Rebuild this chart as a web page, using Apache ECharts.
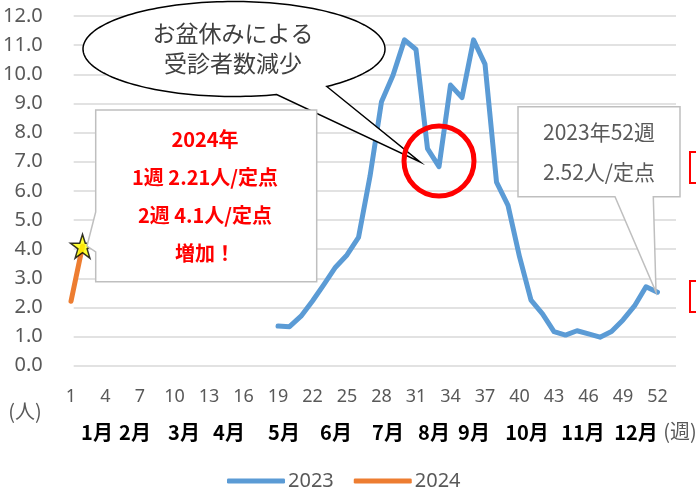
<!DOCTYPE html>
<html><head><meta charset="utf-8">
<script src="https://cdn.jsdelivr.net/npm/echarts@6/dist/echarts.min.js"></script>
<style>html,body{margin:0;padding:0;background:#fff}#c{width:696px;height:488px}</style>
</head><body><div id="c"></div>
<script>
// ---- data ----
const WEEKS = ['1','2','3','4','5','6','7','8','9','10','11','12','13','14','15','16','17','18','19','20',
  '21','22','23','24','25','26','27','28','29','30','31','32','33','34','35','36','37','38','39','40',
  '41','42','43','44','45','46','47','48','49','50','51','52'];
const S2023 = [null,null,null,null,null,null,null,null,null,null,null,null,null,null,null,null,null,null,
  1.36,1.34,1.70,2.22,2.79,3.38,3.80,4.40,6.50,9.06,9.97,11.18,10.85,7.45,6.83,9.63,9.20,11.18,10.35,6.30,5.50,
  3.74,2.25,1.78,1.17,1.05,1.20,1.09,0.98,1.17,1.57,2.05,2.71,2.52];
const S2024 = [2.21, 4.10];
const MONTHS = ['1月','2月','3月','4月','5月','6月','7月','8月','9月','10月','11月','12月'];
const Y_MIN = 0, Y_MAX = 12, Y_STEP = 1;
const LEGEND = ['2023','2024'];
const NOTE_BUBBLE = ['お盆休みによる','受診者数減少'];
const NOTE_2024 = ['2024年','1週 2.21人/定点','2週 4.1人/定点','増加！'];
const NOTE_2023 = ['2023年52週','2.52人/定点'];

// ---- chart ----
const F = '"Noto Sans","Noto Sans CJK JP",sans-serif';
const FJ = '"Noto Sans CJK JP","Noto Sans",sans-serif';
const GRAY = '#595959', GRID = '#d9d9d9';
const BLUE = '#5b9bd5', ORANGE = '#ed7d31';
const chart = echarts.init(document.getElementById('c'), null, {renderer:'canvas'});

function bubblePts(){
  const cx=234, cy=49, rx=151, ry=47.5;
  const a0=73.6, a1=52.1+360, pts=[];
  for(let a=a0; a<a1; a+=2){ const r=a*Math.PI/180; pts.push([cx+rx*Math.cos(r), cy+ry*Math.sin(r)]); }
  const r1=a1*Math.PI/180; pts.push([cx+rx*Math.cos(r1), cy+ry*Math.sin(r1)]);
  pts.push([420,162]);
  return pts;
}
const monthX = [97,135,184,229,284,336,388,434,474,527,583,636];
const graphics = [];
const T = (x,y,text,fill,font)=>({type:'text', z:101, x, y,
  style:{text, fill, font, textAlign:'center', textVerticalAlign:'middle', verticalAlign:'middle'}});
// speech bubble
graphics.push({type:'polygon', z:100, shape:{points:bubblePts()}, style:{fill:'#fff', stroke:'#000', lineWidth:1.5}});
NOTE_BUBBLE.forEach((t,i)=>graphics.push(T(233, 33+i*30, t, '#404040', '23px '+FJ)));
// red circle
graphics.push({type:'circle', z:100, shape:{cx:439, cy:161, r:35}, style:{fill:'none', stroke:'#ff0000', lineWidth:5}});
// left callout
graphics.push({type:'polygon', z:100, shape:{points:[[95.7,110],[316.7,110],[316.7,281.7],[95.7,281.7],[95.7,252],[87,246],[95.7,212]]},
  style:{fill:'#fff', stroke:'#bfbfbf', lineWidth:1.5}});
const y24 = [139,177,215,253];
NOTE_2024.forEach((t,i)=>graphics.push(T(205, y24[i], t, '#ff0000', 'bold 20px '+FJ)));
// right callout
graphics.push({type:'polygon', z:100, shape:{points:[[518,106.7],[680,106.7],[680,196.7],[653.3,196.7],[656,292],[615,196.7],[518,196.7]]},
  style:{fill:'#fff', stroke:'#bfbfbf', lineWidth:1.5}});
const y23 = [132,172];
NOTE_2023.forEach((t,i)=>graphics.push(T(599, y23[i], t, GRAY, '21px '+FJ)));
// month labels
MONTHS.forEach((m,i)=>graphics.push(T(monthX[i], 432, m, '#000', 'bold 20px '+FJ)));
// unit labels
graphics.push(T(25, 411, '(人)', GRAY, '20px '+FJ));
graphics.push(T(680, 431, '(週)', GRAY, '20px '+FJ));
// fragments at right edge
graphics.push({type:'rect', z:100, shape:{x:690, y:152, width:10, height:31}, style:{fill:'none', stroke:'#ff0000', lineWidth:2}});
graphics.push({type:'rect', z:100, shape:{x:690, y:281, width:10, height:31}, style:{fill:'none', stroke:'#ff0000', lineWidth:2}});

const starPath = 'path://M50,2 L61,36 L97,36 L68,57 L79,92 L50,71 L21,92 L32,57 L3,36 L39,36 Z';

chart.setOption({
  animation:false,
  backgroundColor:'#fff',
  textStyle:{fontFamily:F},
  grid:[
    {left:67, right:20, top:16, bottom:122.3},
    {left:65.25, right:32.75, top:16, bottom:122.3}
  ],
  xAxis:[
    {gridIndex:0, type:'value', min:0, max:1, show:false},
    {gridIndex:1, type:'category', data:WEEKS, boundaryGap:true,
     axisLine:{show:false}, axisTick:{show:false},
     axisLabel:{interval:2, margin:22, fontSize:18, color:GRAY, fontFamily:F}}
  ],
  yAxis:[
    {gridIndex:0, type:'value', min:Y_MIN, max:Y_MAX, interval:Y_STEP,
     axisLine:{show:false}, axisTick:{show:false},
     axisLabel:{margin:31, fontSize:20, color:GRAY, fontFamily:F, formatter:v=>v.toFixed(1)},
     splitLine:{lineStyle:{color:GRID, width:1.5}}},
    {gridIndex:1, type:'value', min:Y_MIN, max:Y_MAX, interval:Y_STEP, show:false, splitLine:{show:false}}
  ],
  legend:{
    data:[{name:LEGEND[0], icon:'roundRect', itemStyle:{color:BLUE}}, {name:LEGEND[1], icon:'roundRect', itemStyle:{color:ORANGE}}],
    left:222, top:466, itemWidth:58, itemHeight:5, itemGap:20,
    textStyle:{fontSize:20, color:GRAY, fontFamily:F, padding:[0,0,0,-2]}},
  series:[
    {name:'2023', type:'line', xAxisIndex:1, yAxisIndex:1, data:S2023, symbol:'none', z:3,
     lineStyle:{color:BLUE, width:5, cap:'round', join:'round'}, itemStyle:{color:BLUE}},
    {name:'2024', type:'line', xAxisIndex:1, yAxisIndex:1, data:S2024, symbol:'none', z:3,
     lineStyle:{color:ORANGE, width:5, cap:'round', join:'round'}, itemStyle:{color:ORANGE}},
    {name:'star', type:'scatter', xAxisIndex:1, yAxisIndex:1, z:4,
     data:[[WEEKS[1], S2024[1]]], symbol:starPath, symbolSize:24,
     itemStyle:{color:'#ffff00', borderColor:'#000', borderWidth:1.5}}
  ],
  graphic:graphics
});
</script></body></html>
